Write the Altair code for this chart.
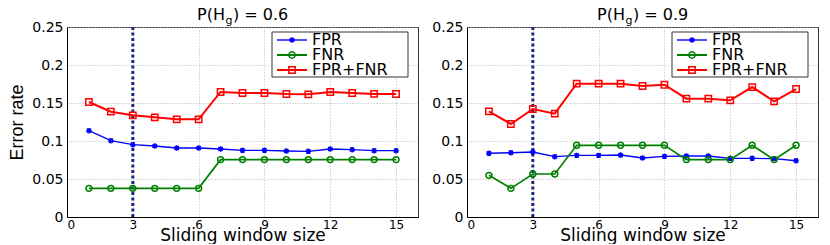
import altair as alt
import pandas as pd

# ---------------- data ----------------
windows = list(range(1, 16))
series_names = ["FPR", "FNR", "FPR+FNR"]
series_colors = ["#0000ff", "#008000", "#ff0000"]
panel_pvalues = ["0.6", "0.9"]
chosen_window = [3]
x_ticks = [0, 3, 6, 9, 12, 15]
y_ticks = [0, 0.05, 0.1, 0.15, 0.2, 0.25]

fpr_06 = [0.1136, 0.1004, 0.0952, 0.0934, 0.0908, 0.0908, 0.0895, 0.0877,
          0.0877, 0.0868, 0.0864, 0.0895, 0.0886, 0.0873, 0.0873]
fnr_06 = [0.0377, 0.0377, 0.0377, 0.0377, 0.0377, 0.0377, 0.0755, 0.0755,
          0.0755, 0.0755, 0.0755, 0.0755, 0.0755, 0.0755, 0.0755]
sum_06 = [0.1513, 0.1386, 0.1338, 0.1311, 0.1285, 0.1285, 0.1645, 0.1632,
          0.1632, 0.1618, 0.1614, 0.1645, 0.1632, 0.1620, 0.1618]

fpr_09 = [0.0838, 0.0846, 0.0855, 0.0794, 0.0811, 0.0811, 0.0815, 0.0776,
          0.0798, 0.0803, 0.0803, 0.0772, 0.0772, 0.0768, 0.0741]
fnr_09 = [0.0548, 0.0377, 0.0566, 0.0566, 0.0943, 0.0943, 0.0943, 0.0943,
          0.0943, 0.0755, 0.0755, 0.0755, 0.0943, 0.0755, 0.0943]
sum_09 = [0.1390, 0.1224, 0.1421, 0.1360, 0.1754, 0.1754, 0.1754, 0.1724,
          0.1740, 0.1557, 0.1557, 0.1535, 0.1710, 0.1522, 0.1684]

# ---------------- style ----------------
ASTERISK = "M-1,0L1,0M0,-1L0,1M-0.75,-0.75L0.75,0.75M-0.75,0.75L0.75,-0.75"
series_shapes = [ASTERISK, "circle", "square"]
series_sizes = [30, 40, 40]
series_widths = [1.4, 2.0, 2.0]
W, H = 351, 190
FONT = "DejaVu Sans"


def panel(fpr, fnr, tot, pval, show_ytitle):
    df = pd.DataFrame({
        "window": windows * 3,
        "rate": fpr + fnr + tot,
        "series": [s for s in series_names for _ in windows],
    })
    x = alt.X("window:Q", scale=alt.Scale(domain=[0, 16], nice=False),
              axis=alt.Axis(values=x_ticks, title="Sliding window size"))
    if show_ytitle:
        yaxis = alt.Axis(values=y_ticks, format="~g", title="Error rate")
    else:
        yaxis = alt.Axis(values=y_ticks, format="~g", title=None)
    y = alt.Y("rate:Q", scale=alt.Scale(domain=[0, 0.25], nice=False), axis=yaxis)
    color = alt.Color("series:N", scale=alt.Scale(domain=series_names, range=series_colors), legend=None)
    shape = alt.Shape("series:N", scale=alt.Scale(domain=series_names, range=series_shapes), legend=None)
    size = alt.Size("series:N", scale=alt.Scale(domain=series_names, range=series_sizes), legend=None)
    sw = alt.StrokeWidth("series:N", scale=alt.Scale(domain=series_names, range=series_widths), legend=None)

    base = alt.Chart(df)
    lines = base.mark_line().encode(x=x, y=y, color=color, strokeWidth=sw)
    pts = base.mark_point(filled=False, strokeWidth=1.5, opacity=1).encode(
        x=x, y=y, color=color, shape=shape, size=size)
    rule = alt.Chart(pd.DataFrame({"window": chosen_window})).mark_rule(
        color="#1a2a7a", strokeWidth=3, strokeDash=[3, 2.5]).encode(x=x)

    layers = [rule, lines, pts]

    # legend box (drawn in pixel space)
    one = pd.DataFrame({"k": [0]})
    layers.append(alt.Chart(one).mark_rect(fill="white", stroke="#333", strokeWidth=1).encode(
        x=alt.value(205), x2=alt.value(341), y=alt.value(5), y2=alt.value(50)))
    for i, (name, col, shp, wdt, sz) in enumerate(
            zip(series_names, series_colors, series_shapes, series_widths, series_sizes)):
        yy = 13 + 15 * i
        d = pd.DataFrame({"series": [name]})
        layers.append(alt.Chart(d).mark_rule(color=col, strokeWidth=wdt).encode(
            x=alt.value(210), x2=alt.value(240), y=alt.value(yy)))
        layers.append(alt.Chart(d).mark_point(filled=False, shape=shp, size=sz, strokeWidth=1.5,
                                              color=col, opacity=1).encode(
            x=alt.value(225), y=alt.value(yy)))
        layers.append(alt.Chart(d).mark_text(align="left", baseline="middle", font=FONT,
                                             fontSize=16, color="black").encode(
            x=alt.value(245), y=alt.value(yy), text="series:N"))

    # title with subscript
    t = pd.DataFrame({"a": ["P(H"], "b": ["g"], "c": [") = " + pval]})
    cx = W / 2
    layers.append(alt.Chart(t).mark_text(align="right", baseline="alphabetic", font=FONT,
                                         fontSize=16, color="black").encode(
        x=alt.value(cx - 17.5), y=alt.value(-7), text="a:N"))
    layers.append(alt.Chart(t).mark_text(align="left", baseline="alphabetic", font=FONT,
                                         fontSize=11, color="black").encode(
        x=alt.value(cx - 17), y=alt.value(-3), text="b:N"))
    layers.append(alt.Chart(t).mark_text(align="left", baseline="alphabetic", font=FONT,
                                         fontSize=16, color="black").encode(
        x=alt.value(cx - 9.5), y=alt.value(-7), text="c:N"))

    return alt.layer(*layers).properties(width=W, height=H)


left = panel(fpr_06, fnr_06, sum_06, panel_pvalues[0], True)
right = panel(fpr_09, fnr_09, sum_09, panel_pvalues[1], False)

chart = (
    alt.hconcat(left, right, spacing=12)
    .properties(padding={"left": 0, "top": -2, "right": 0, "bottom": 0}, background="white")
    .configure_view(stroke="#333333", strokeWidth=1)
    .configure_axis(
        domainColor="black", domainWidth=1, ticks=False,
        labelFont=FONT, labelColor="black",
        titleFontWeight="normal", titleColor="black",
        gridColor="#b5b5b5", gridDash=[1, 2], gridWidth=1,
    )
    .configure_axisX(titleFont=FONT, titleFontSize=17, titlePadding=-3,
                     labelFontSize=12, labelPadding=2)
    .configure_axisY(titleFont="Liberation Sans", titleFontSize=18, titlePadding=5,
                     labelFontSize=14, labelPadding=4)
)

chart.save("out.html", embed_options={"renderer": "svg", "actions": False})
